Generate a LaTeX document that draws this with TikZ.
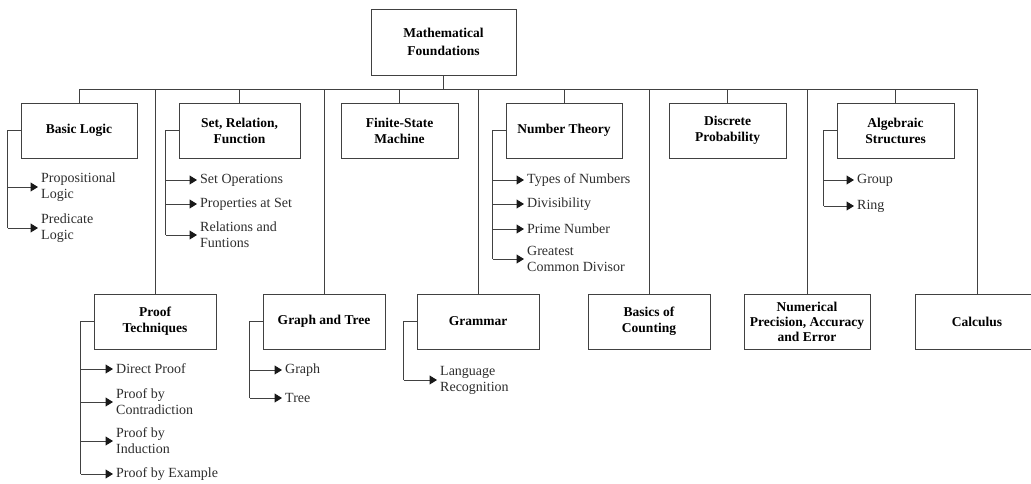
\documentclass[tikz,border=0pt]{standalone}
\usepackage{fontspec}
\setmainfont{Liberation Serif}
\usetikzlibrary{arrows.meta}
\definecolor{lineGray}{RGB}{65,65,65}
\definecolor{textGray}{RGB}{45,45,45}

\begin{document}
\begin{tikzpicture}[x=1pt, y=-1pt,
  topic/.style={rectangle, draw=lineGray, line width=1pt, fill=white,
                minimum width=119pt, minimum height=55pt, align=center,
                inner xsep=2pt, font=\fontsize{13.5}{16}\selectfont\bfseries},
  item/.style={anchor=west, align=left, inner xsep=3pt, inner ysep=1pt,
               text=textGray, font=\fontsize{14}{16}\selectfont},
  link/.style={lineGray, line width=1pt},
  arr/.style={link, -{Triangle[length=7.5pt, width=9pt, color=black!90]}}
]
  \useasboundingbox (0,0) rectangle (1031,483);
  \def\rowA{130.5}
  \def\rowB{321.5}

  % root
  \node[topic, minimum width=145pt, minimum height=66pt,
        font=\fontsize{13.5}{18}\selectfont\bfseries] (root) at (443.5,42)
    {Mathematical\\Foundations};

  % first row
  \node[topic, minimum width=116pt] (logic) at (79,\rowA) {Basic Logic};
  \node[topic, minimum width=121pt] (sets)  at (239.5,\rowA) {Set, Relation,\\Function};
  \node[topic, minimum width=117pt] (fsm)   at (399.5,\rowA) {Finite-State\\Machine};
  \node[topic, minimum width=116pt] (numth) at (564,\rowA) {Number Theory};
  \node[topic, minimum width=117pt] (prob)  at (727.5,\rowA) {Discrete\\Probability};
  \node[topic, minimum width=117pt] (alg)   at (895.5,\rowA) {Algebraic\\Structures};

  % second row
  \node[topic, minimum width=122pt] (proof) at (155,\rowB) {Proof\\Techniques};
  \node[topic, minimum width=122pt] (graph) at (324,\rowB) {Graph and Tree};
  \node[topic, minimum width=122pt] (gram)  at (478,\rowB) {Grammar};
  \node[topic, minimum width=122pt] (count) at (649,\rowB) {Basics of\\Counting};
  \node[topic, minimum width=126pt, font=\fontsize{13.5}{15}\selectfont\bfseries]
    (numer) at (807,\rowB) {Numerical\\Precision, Accuracy\\and Error};
  \node[topic, minimum width=124pt] (calc)  at (977,\rowB) {Calculus};

  % sub-topics
  \node[item] (logic1) at (38,187) {Propositional\\Logic};
  \node[item] (logic2) at (38,228) {Predicate\\Logic};
  \node[item] (sets1) at (197,180) {Set Operations};
  \node[item] (sets2) at (197,204) {Properties at Set};
  \node[item] (sets3) at (197,235) {Relations and\\Funtions};
  \node[item] (numth1) at (524,180) {Types of Numbers};
  \node[item] (numth2) at (524,204) {Divisibility};
  \node[item] (numth3) at (524,229) {Prime Number};
  \node[item] (numth4) at (524,259) {Greatest\\Common Divisor};
  \node[item] (alg1) at (854,180) {Group};
  \node[item] (alg2) at (854,206) {Ring};
  \node[item] (proof1) at (113,369) {Direct Proof};
  \node[item] (proof2) at (113,402) {Proof by\\Contradiction};
  \node[item] (proof3) at (113,441) {Proof by\\Induction};
  \node[item] (proof4) at (113,474) {Proof by Example};
  \node[item] (graph1) at (282,370) {Graph};
  \node[item] (graph2) at (282,398) {Tree};
  \node[item] (gram1) at (437,380) {Language\\Recognition};

  % tree lines
  \coordinate (bus) at (443.5,89);
  \draw[link] (root.south) -- (bus);
  \draw[link] (logic.north |- bus) -- (calc.north |- bus);
  \foreach \t in {logic, sets, fsm, numth, prob, alg,
                  proof, graph, gram, count, numer, calc}
    \draw[link] (\t.north |- bus) -- (\t.north);

  \foreach \t/\last in {logic/logic2, sets/sets3, numth/numth4, alg/alg2,
                        proof/proof4, graph/graph2, gram/gram1}
    \draw[link] (\t.west) -- ++(-13,0) coordinate (\t-rail)
                -- (\t-rail |- \last.west);
  \foreach \t/\n in {logic/logic1, logic/logic2, sets/sets1, sets/sets2,
                     sets/sets3, numth/numth1, numth/numth2, numth/numth3,
                     numth/numth4, alg/alg1, alg/alg2, proof/proof1,
                     proof/proof2, proof/proof3, proof/proof4,
                     graph/graph1, graph/graph2, gram/gram1}
    \draw[arr] (\t-rail |- \n.west) -- (\n.west);
\end{tikzpicture}
\end{document}
